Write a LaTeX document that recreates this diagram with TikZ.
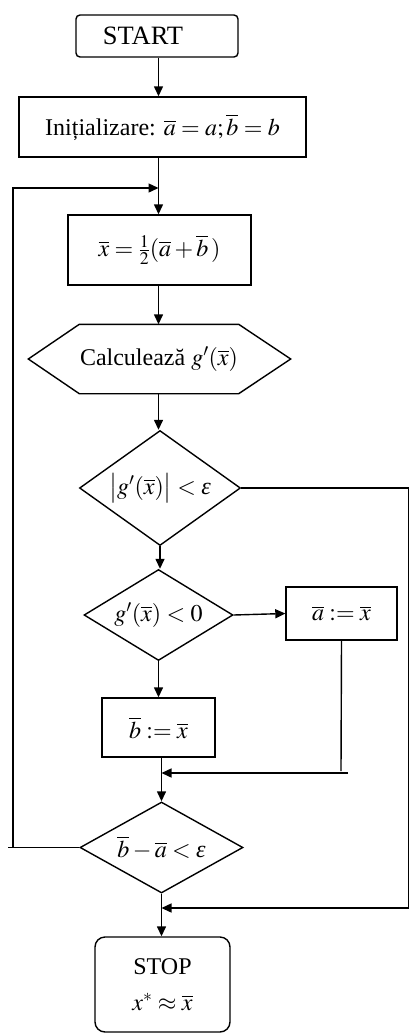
\documentclass[tikz,border=0pt]{standalone}
\usepackage{mathptmx}
\usepackage{fontspec}
\setmainfont{Liberation Serif}
\usetikzlibrary{arrows.meta,shapes.geometric}
\newcommand{\veps}{\textit{ε}}
\begin{document}
\begin{tikzpicture}[x=1pt,y=-1pt,line width=1.4pt,
  every node/.style={font=\fontsize{24}{29}\selectfont, inner sep=0pt},
  box/.style={draw, rectangle},
  dia/.style={draw, diamond, aspect=1.5},
  arr/.style={-{Triangle[length=10pt,width=9pt]}}]
\useasboundingbox (0,0) rectangle (411,1033);

\coordinate (c1) at (158.5,0);

\node[box, rounded corners=4pt, minimum width=162pt, minimum height=42pt, font=\fontsize{26.5}{30}\selectfont] (start) at (157,36) {START\hspace*{28pt}};
\node[box, minimum width=287pt, minimum height=60pt] (init) at (162.5,127) {Inițializare: $\overline{a}=a;\overline{b}=b$};
\node[box, minimum width=183pt, minimum height=70pt] (xbar) at (159.5,250) {$\overline{x}=\frac{1}{2}(\overline{a}+\overline{b}\,)$};
\node[minimum width=151pt, minimum height=68pt] (hex) at (159,359) {Calculează $g'(\overline{x})$};
\draw (hex.north west) -- (hex.north east) -- ([xshift=52pt]hex.east) -- (hex.south east) -- (hex.south west) -- ([xshift=-51pt]hex.west) -- cycle;
\node[dia, aspect=1.4, minimum width=161pt, minimum height=115pt] (d1) at (160,488) {$\bigl|g'(\overline{x})\bigr|<\mbox{\veps}$};
\node[dia, aspect=1.6, minimum width=149pt, minimum height=91pt] (d2) at (158.5,615) {$g'(\overline{x})<0$};
\node[box, minimum width=111pt, minimum height=53pt] (abox) at (341.5,613.5) {$\overline{a}:=\overline{x}$};
\node[box, minimum width=113pt, minimum height=59pt] (bbox) at (158.5,727.5) {$\overline{b}:=\overline{x}$};
\node[dia, aspect=1.8, minimum width=163pt, minimum height=91pt] (d3) at (161.5,847.5) {$\overline{b}-\overline{a}<\mbox{\veps}$};
\node[box, rounded corners=10pt, minimum width=135pt, minimum height=95pt, align=center] (stop) at (162.5,984.5) {STOP\\[7pt]$x^{*}\approx\overline{x}$};

% main column
\draw[arr] (start.south -| c1) -- (init.north -| c1);
\draw[arr] (init.south -| c1) -- (xbar.north -| c1);
\draw[arr] (xbar.south -| c1) -- (hex.north -| c1);
\draw[arr] (hex.south -| c1) -- (d1.north -| c1);
\draw[arr] (d1.south) -- (d1.south |- d2.north);
\draw[arr] (d2.south) -- (d2.south |- bbox.north);
\draw[arr] (bbox.south -| d3.north) -- (d3.north);
\draw[arr] (d3.south) -- (d3.south |- stop.north);

% branch to a := x
\draw[arr] (d2.east) -- (abox.west);
\coordinate (aend) at (341,771);
\coordinate (ahs) at (348,773);
\coordinate (ajn) at (161.5,773);
\draw (abox.south) -- (aend);
\draw[arr] (ahs) -- (ajn);

% right exit from d1
\coordinate (rt) at (408.5,908);
\coordinate (rjn) at (161.5,908);
\draw[arr] (d1.east) -| (rt) -- (rjn);

% loop back from d3
\coordinate (lend) at (8,847.5);
\coordinate (loopB) at (13,847.5);
\coordinate (loopT) at (158.5,188);
\draw (d3.west) -- (lend);
\draw[arr] (loopB) |- (loopT);
\end{tikzpicture}
\end{document}
